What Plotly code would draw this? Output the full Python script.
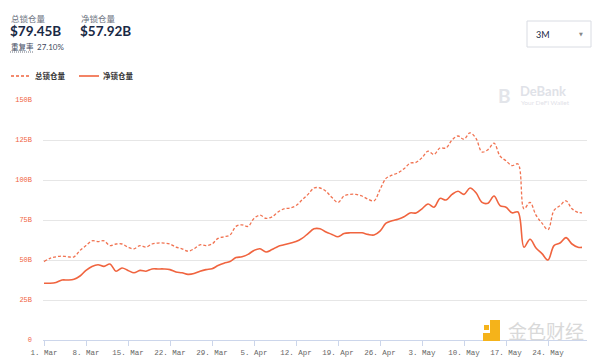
import plotly.graph_objects as go
import pandas as pd

start_date = "2021-03-01"
total_tvl = [49, 51, 52, 52.5, 52, 52, 56, 59, 62, 61.5,
             62, 59, 60, 60, 58, 57, 59, 58, 60, 60.6,
             60.6, 60, 58, 57, 55.5, 57, 59.5, 59, 60, 63.5,
             64.5, 65.6, 71, 72, 71, 76, 78, 76, 77, 80,
             82, 82.5, 84, 87.5, 91, 95, 95, 93, 89, 86,
             90, 91, 91, 90, 88, 87, 94, 101, 103, 104.5,
             107, 110.5, 111, 114, 118, 116, 120, 120, 125, 127.5,
             125.5, 129.5, 126, 117.5, 119, 123, 115, 112, 109, 110,
             82, 86, 78, 73, 69, 81, 84, 87, 82, 79.8, 79.45]
net_tvl = [35.5, 35.5, 36, 37.5, 37.5, 38, 40, 43.5, 46, 47,
           46, 47.5, 43, 45, 43.5, 42, 43.5, 43, 44.4, 44.4,
           44.4, 44, 42.5, 42, 41, 41.5, 43, 44, 44.5, 46.5,
           48, 49, 51.5, 52, 53.5, 56, 57, 55, 56.5, 58.5,
           59.5, 60.5, 61.5, 63.5, 66.5, 69.5, 69.5, 67.5, 66, 64.5,
           66.5, 67, 67, 67, 66, 65.6, 68, 73, 74.5, 75.5,
           77, 79.4, 79.4, 82, 85, 83, 88.5, 87.5, 91, 93,
           91, 95, 92, 86, 85.5, 90, 84, 83, 79.5, 80,
           58, 63, 57.5, 54, 50, 59, 60.6, 64, 60, 58, 57.92]
y_ticks = [0, 25, 50, 75, 100, 125, 150]
y_tick_labels = ["0", "25B", "50B", "75B", "100B", "125B", "150B"]
series_names = ["总锁仓量", "净锁仓量"]

dates = pd.date_range(start_date, periods=len(total_tvl), freq="D")
# last point lands a little before the next day
dates = list(dates[:-1]) + [dates[-2] + pd.Timedelta(hours=16)]

C = "#f0643f"
fig = go.Figure()
fig.add_trace(go.Scatter(x=dates, y=total_tvl, mode="lines", name=series_names[0],
                         line=dict(color=C, width=1.3, dash="3px,2px", shape="spline", smoothing=1.0),
                         opacity=0.9, showlegend=False))
fig.add_trace(go.Scatter(x=dates, y=net_tvl, mode="lines", name=series_names[1],
                         line=dict(color=C, width=1.6, shape="spline", smoothing=1.0),
                         showlegend=False))

# the page body has an 8px margin, so margins are offset by 8px
fig.update_layout(
    width=600, height=359,
    margin=dict(l=35, r=21, t=92, b=27, autoexpand=False),
    paper_bgcolor="white", plot_bgcolor="white",
    font=dict(family="Noto Sans CJK SC, Noto Sans", color="#333"),
)
fig.update_xaxes(
    type="date", automargin=False,
    range=["2021-02-28 20:00", "2021-05-30 12:00"],
    tick0="2021-03-01", dtick=7 * 86400000,
    tickformat="%-d. %b",
    showgrid=False, showline=True, linecolor="#ccd6eb", linewidth=1,
    ticks="outside", ticklen=5, tickcolor="#ccd6eb",
    tickfont=dict(family="Liberation Mono", size=7.5, color="#666"),
    fixedrange=True,
)
fig.update_yaxes(
    automargin=False,
    range=[0, 150], tickvals=y_ticks, ticktext=y_tick_labels,
    showgrid=True, gridcolor="#e6e6e6", gridwidth=1, zeroline=False,
    tickfont=dict(family="Liberation Mono", size=7, color="#f0643f"),
    ticklabelstandoff=10,
)

# page pixel -> paper coords (plot area spans page x 43..587, y 100..340)
def px(x):
    return (x - 43) / 544
def py(y):
    return (340 - y) / 240

# header texts
fig.add_annotation(x=px(9), y=py(18), xref="paper", yref="paper", text="总锁仓量",
                   showarrow=False, xanchor="left", yanchor="middle",
                   font=dict(size=8.5, color="#6b7280", family="Noto Sans CJK SC"))
fig.add_annotation(x=px(79), y=py(18), xref="paper", yref="paper", text="净锁仓量",
                   showarrow=False, xanchor="left", yanchor="middle",
                   font=dict(size=8.5, color="#6b7280", family="Noto Sans CJK SC"))
fig.add_annotation(x=px(8), y=py(31), xref="paper", yref="paper", text="<b>$79.45B</b>",
                   showarrow=False, xanchor="left", yanchor="middle",
                   font=dict(size=13.5, color="#192945", family="Lato"))
fig.add_annotation(x=px(78), y=py(31), xref="paper", yref="paper", text="<b>$57.92B</b>",
                   showarrow=False, xanchor="left", yanchor="middle",
                   font=dict(size=13.5, color="#192945", family="Lato"))
fig.add_annotation(x=px(9), y=py(47), xref="paper", yref="paper", text="重复率",
                   showarrow=False, xanchor="left", yanchor="middle",
                   font=dict(size=7.5, color="#3e495e", family="Noto Sans CJK SC"))
fig.add_shape(type="line", xref="paper", yref="paper", x0=px(10), x1=px(33), y0=py(52), y1=py(52),
              line=dict(color="#6b7280", width=1, dash="1px,1px"))
fig.add_annotation(x=px(35), y=py(47), xref="paper", yref="paper", text="27.10%",
                   showarrow=False, xanchor="left", yanchor="middle",
                   font=dict(size=8, color="#3e495e", family="Lato"))

# dropdown
fig.add_shape(type="rect", xref="paper", yref="paper", x0=px(527), x1=px(591), y0=py(47), y1=py(21),
              line=dict(color="#d9dce3", width=1), fillcolor="white")
fig.add_annotation(x=px(534), y=py(34), xref="paper", yref="paper", text="3M",
                   showarrow=False, xanchor="left", yanchor="middle",
                   font=dict(size=9, color="#192945", family="Lato"))
fig.add_annotation(x=px(581), y=py(34), xref="paper", yref="paper", text="▼",
                   showarrow=False, xanchor="center", yanchor="middle",
                   font=dict(size=5, color="#888", family="DejaVu Sans"))

# legend
fig.add_shape(type="line", xref="paper", yref="paper", x0=px(11), x1=px(30), y0=py(76), y1=py(76),
              line=dict(color=C, width=1.3, dash="3px,2px"))
fig.add_annotation(x=px(33), y=py(76), xref="paper", yref="paper", text="<b>" + series_names[0] + "</b>",
                   showarrow=False, xanchor="left", yanchor="middle",
                   font=dict(size=7.5, color="#333", family="Noto Sans CJK SC"))
fig.add_shape(type="line", xref="paper", yref="paper", x0=px(79), x1=px(99), y0=py(76), y1=py(76),
              line=dict(color=C, width=1.6))
fig.add_annotation(x=px(101), y=py(76), xref="paper", yref="paper", text="<b>" + series_names[1] + "</b>",
                   showarrow=False, xanchor="left", yanchor="middle",
                   font=dict(size=7.5, color="#333", family="Noto Sans CJK SC"))

# DeBank watermark
fig.add_annotation(x=px(504), y=py(95), xref="paper", yref="paper", text="<b>B</b>",
                   showarrow=False, xanchor="center", yanchor="middle",
                   font=dict(size=19, color="#e3e5ea", family="Lato"))
fig.add_annotation(x=px(518), y=py(91), xref="paper", yref="paper", text="<b>DeBank</b>",
                   showarrow=False, xanchor="left", yanchor="middle",
                   font=dict(size=13, color="#dfe2e8", family="Lato"))
fig.add_annotation(x=px(519), y=py(102), xref="paper", yref="paper", text="Your DeFi Wallet",
                   showarrow=False, xanchor="left", yanchor="middle",
                   font=dict(size=6.5, color="#dfe2e8", family="Lato"))

# Jinse watermark
fig.add_shape(type="rect", xref="paper", yref="paper", x0=px(490), x1=px(500), y0=py(341), y1=py(320),
              fillcolor="#f5b31a", line_width=0)
fig.add_shape(type="rect", xref="paper", yref="paper", x0=px(483), x1=px(490), y0=py(341), y1=py(333),
              fillcolor="#f5b31a", line_width=0)
fig.add_shape(type="rect", xref="paper", yref="paper", x0=px(484), x1=px(489), y0=py(330), y1=py(325),
              fillcolor="#f5b31a", line_width=0)
fig.add_annotation(x=px(506), y=py(330), xref="paper", yref="paper", text="金色财经",
                   showarrow=False, xanchor="left", yanchor="middle",
                   font=dict(size=19, color="#d9d9d9", family="Noto Sans CJK SC"))

fig.write_html("out.html")
